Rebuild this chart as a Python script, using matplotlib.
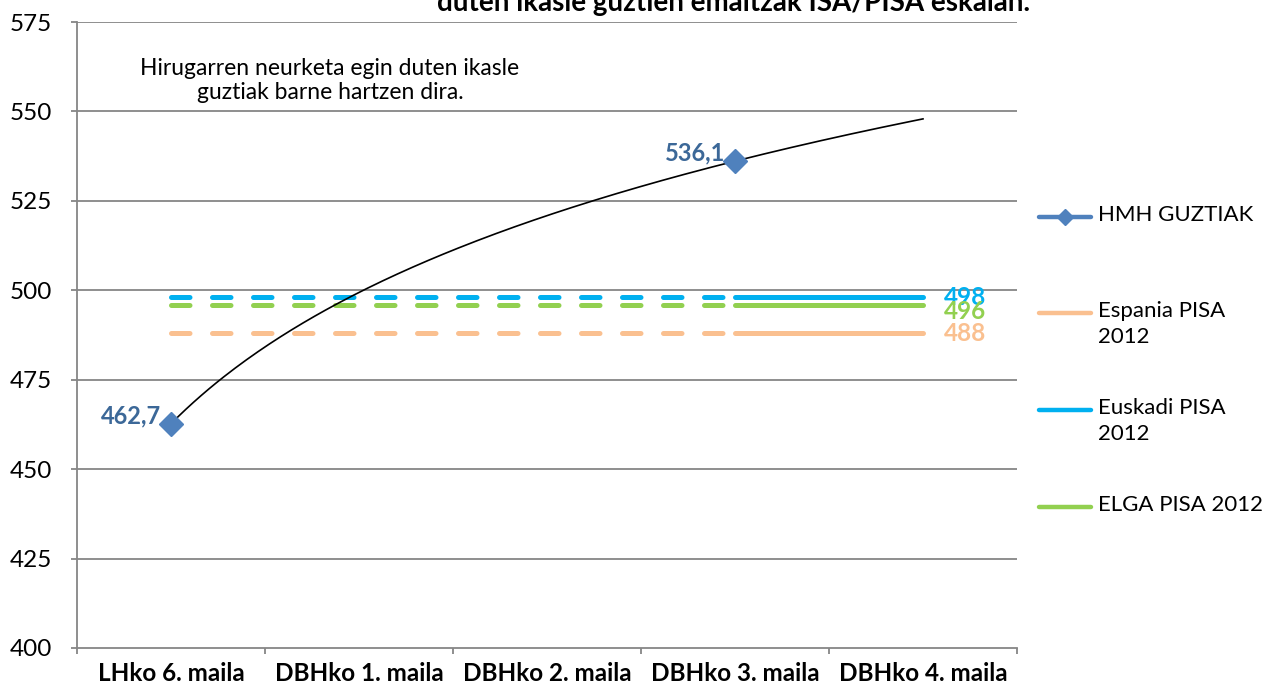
import numpy as np
import matplotlib
matplotlib.use("Agg")
import matplotlib.pyplot as plt
from matplotlib.lines import Line2D

plt.rcParams['font.family'] = ['Lato', 'DejaVu Sans']

categories = ["LHko 6. maila", "DBHko 1. maila", "DBHko 2. maila", "DBHko 3. maila", "DBHko 4. maila"]
hmh_values = [462.7, None, None, 536.1, None]
espania_values = [488, 488, 488, 488, 488]
euskadi_values = [498, 498, 498, 498, 498]
elga_values = [496, 496, 496, 496, 496]
y_ticks = [400, 425, 450, 475, 500, 525, 550, 575]

W, H = 1269, 692
fig = plt.figure(figsize=(W / 100, H / 100), dpi=100)
ax = fig.add_axes([77 / W, 1 - 648 / H, (1017 - 77) / W, (648 - 22) / H])

grid_c = "#868686"
c_hmh = "#4F81BD"
c_hmh_lbl = "#3C6898"
c_esp = "#FAC090"
c_eus = "#00B0F0"
c_elga = "#92D050"

x = np.arange(len(categories))
ax.set_xlim(-0.5, len(categories) - 0.5)
ax.set_ylim(400, 575)
ax.set_yticks(y_ticks)
for t in y_ticks[1:]:
    ax.axhline(t, color=grid_c, lw=1.3, zorder=0)

# PISA reference lines: dashed up to DBHko 3, solid afterwards
lw = 3.6
for vals, col in [(espania_values, c_esp), (elga_values, c_elga), (euskadi_values, c_eus)]:
    ax.plot(x[:4], vals[:4], color=col, lw=lw, linestyle=(0, (3.7, 4.5)),
            dash_capstyle='round', solid_capstyle='round', zorder=2)
    ax.plot(x[3:], vals[3:], color=col, lw=lw, solid_capstyle='round', zorder=2)

# logarithmic trend line through HMH points
pts = [(i + 1, v) for i, v in enumerate(hmh_values) if v is not None]
px = np.log([p[0] for p in pts])
py = np.array([p[1] for p in pts])
b, a = np.polyfit(px, py, 1)
xt = np.linspace(1, len(categories), 200)
ax.plot(xt - 1, a + b * np.log(xt), color="black", lw=1.2, zorder=3)

hx = [i for i, v in enumerate(hmh_values) if v is not None]
hy = [v for v in hmh_values if v is not None]
ax.plot(hx, hy, linestyle='none', marker='D', ms=12.5, color=c_hmh, mec=c_hmh, zorder=4)

for xx, yy in zip(hx, hy):
    ax.annotate(f"{yy:.1f}".replace(".", ","), (xx, yy), xytext=(-10, 8), textcoords='offset pixels',
                ha='right', va='center', fontsize=17, fontweight='bold', color=c_hmh_lbl, zorder=3.5)

end_lbls = [(euskadi_values[-1], c_eus, 0), (elga_values[-1], c_elga, -7), (espania_values[-1], c_esp, 0)]
for val, col, dy in end_lbls:
    ax.annotate(str(val), (x[-1], val), xytext=(21, dy), textcoords='offset pixels',
                ha='left', va='center', fontsize=17.5, fontweight='bold', color=col)

# axes styling
for s in ['top', 'right']:
    ax.spines[s].set_visible(False)
for s in ['left', 'bottom']:
    ax.spines[s].set_color(grid_c)
    ax.spines[s].set_linewidth(1.3)
ax.set_xticks(np.arange(-0.5, len(categories), 1.0))
ax.set_xticklabels([])
ax.set_xticks(x, minor=True)
ax.set_xticklabels(categories, minor=True, fontsize=17.5, fontweight='bold')
ax.tick_params(axis='x', which='major', length=4.5, color=grid_c, width=1.3)
ax.tick_params(axis='x', which='minor', length=0, pad=10)
ax.tick_params(axis='y', length=4.5, color=grid_c, width=1.3, labelsize=17.5, pad=13.5)

ax.text(330 / W * W, 0, "", transform=ax.transAxes)
fig.text(330 / W, 1 - 58 / H, "Hirugarren neurketa egin duten ikasle\nguztiak barne hartzen dira.",
         ha='center', va='top', fontsize=16.5, linespacing=1.15)

fig.text(734 / W, 1 - 11 / H, "duten ikasle guztien emaitzak ISA/PISA eskalan.",
         ha='center', va='baseline', fontsize=20, fontweight='bold')

# legend (drawn manually)
leg = [("HMH GUZTIAK", c_hmh, True, 217), ("Espania PISA\n2012", c_esp, False, 313),
       ("Euskadi PISA\n2012", c_eus, False, 410), ("ELGA PISA 2012", c_elga, False, 507)]
for label, col, mk, yy in leg:
    yf = 1 - yy / H
    fig.add_artist(Line2D([1039 / W, 1091 / W], [yf, yf], color=col, lw=3.2,
                          solid_capstyle='round', transform=fig.transFigure))
    if mk:
        fig.add_artist(Line2D([1065 / W], [yf], marker='D', ms=8, color=col,
                              transform=fig.transFigure))
    fig.text(1098 / W, yf + 12 / H, label, ha='left', va='top', fontsize=16, linespacing=1.4)

fig.savefig("out.png", dpi=100)
